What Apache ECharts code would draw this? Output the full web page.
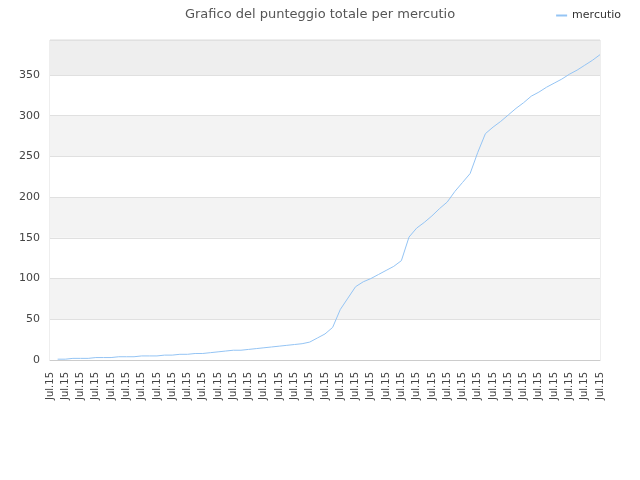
<!DOCTYPE html>
<html>
<head>
<meta charset="utf-8">
<script src="https://cdn.jsdelivr.net/npm/echarts@6/dist/echarts.min.js"></script>
<style>
  html, body { margin: 0; padding: 0; background: #fff; }
  #chart { width: 640px; height: 480px; }
</style>
</head>
<body>
<div id="chart"></div>
<script>
// etichette asse x (solo una su due viene mostrata)
const dayLabels = Array(73).fill("Jul.15");

// punteggio totale di mercutio
const scores = [
  null, 1, 1, 2, 2, 2, 3, 3, 3, 4,
  4, 4, 5, 5, 5, 6, 6, 7, 7, 8,
  8, 9, 10, 11, 12, 12, 13, 14, 15, 16,
  17, 18, 19, 20, 22, 27, 32, 40, 62, 76,
  90, 96, 100, 105, 110, 115, 122, 151, 162, 169,
  177, 186, 194, 207, 218, 229, 255, 278, 286, 293,
  301, 309, 316, 324, 329, 335, 340, 345, 351, 356,
  362, 368, 375
];

const yTicks = { min: 0, max: 393, interval: 50 };

const textColor = "#444";
const font = "DejaVu Sans";

const chart = echarts.init(document.getElementById("chart"));
chart.setOption({
  animation: false,
  textStyle: { fontFamily: font },
  title: {
    text: "Grafico del punteggio totale per mercutio",
    left: "center",
    top: 3,
    textStyle: { fontSize: 13, fontWeight: "normal", color: "#555", fontFamily: font },
  },
  legend: {
    data: ["mercutio"],
    right: 14,
    top: 5,
    itemWidth: 11,
    itemHeight: 2,
    icon: "rect",
    textStyle: { fontSize: 11, color: "#333", fontFamily: font },
  },
  grid: {
    left: 50,
    right: 40,
    top: 40,
    bottom: 120,
    show: true,
    borderColor: "#ddd",
    borderWidth: 1,
  },
  xAxis: {
    type: "category",
    data: dayLabels,
    boundaryGap: false,
    axisLine: { lineStyle: { color: "#ccc" } },
    axisTick: { show: false },
    axisLabel: {
      interval: 1,
      rotate: 90,
      fontSize: 10,
      color: textColor,
      margin: 12,
    },
  },
  yAxis: {
    type: "value",
    min: yTicks.min,
    max: yTicks.max,
    interval: yTicks.interval,
    axisLine: { show: false },
    axisTick: { show: false },
    axisLabel: { fontSize: 11, color: textColor, showMaxLabel: false, margin: 10 },
    splitLine: { lineStyle: { color: "#e0e0e0" } },
    splitArea: {
      show: true,
      areaStyle: {
        color: ["#ffffff", "#f3f3f3", "#ffffff", "#f3f3f3", "#ffffff", "#f3f3f3", "#ffffff", "#eeeeee"],
      },
    },
  },
  series: [
    {
      name: "mercutio",
      type: "line",
      data: scores,
      showSymbol: false,
      lineStyle: { width: 1, color: "#94c4f4" },
      itemStyle: { color: "#94c4f4" },
    },
  ],
});
</script>
</body>
</html>
